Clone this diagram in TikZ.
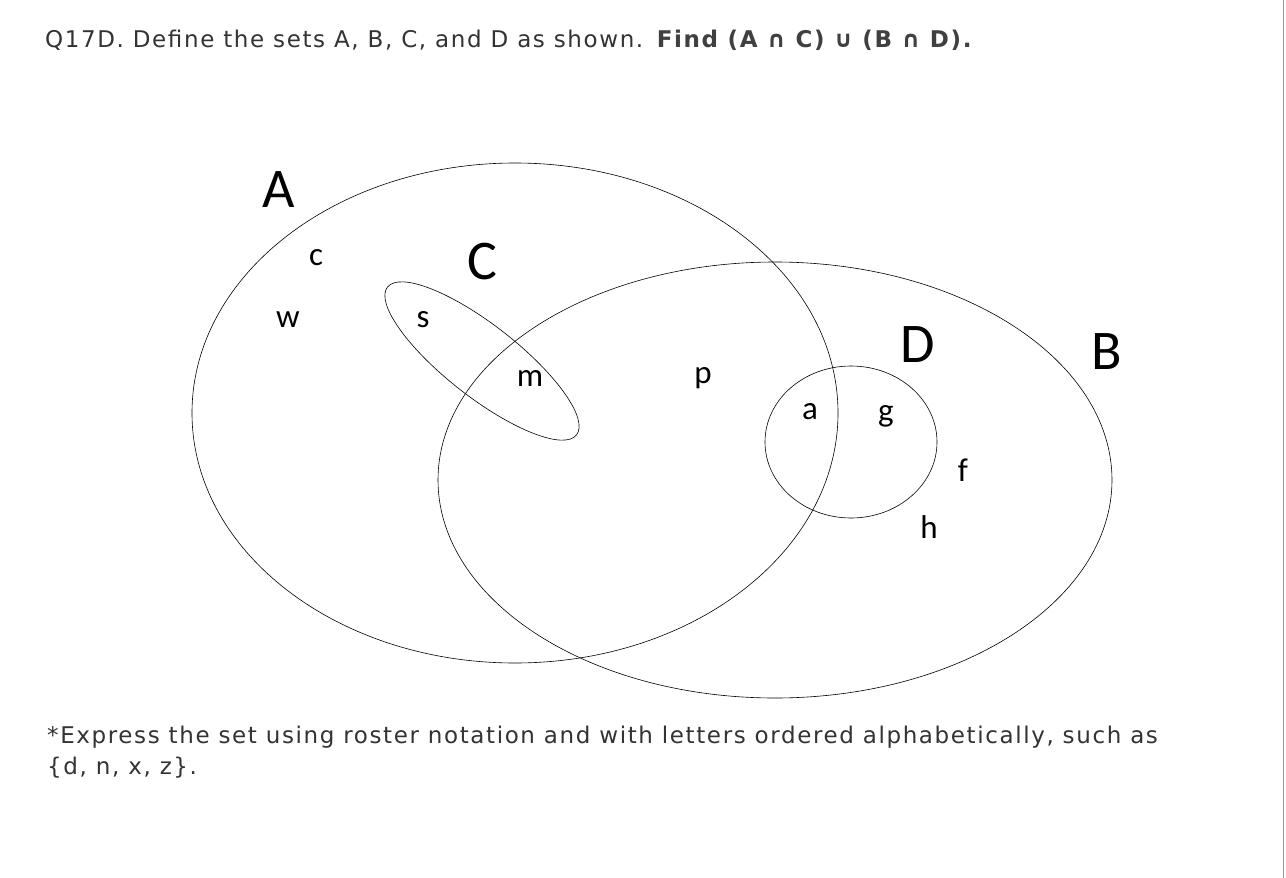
\documentclass[tikz,border=0pt]{standalone}
\usepackage{fontspec}
\setmainfont{DejaVu Sans}[LetterSpace=7]
\newfontfamily\venn{Carlito}
\begin{document}
\begin{tikzpicture}[x=1pt,y=-1pt,
  setline/.style={draw=black,line width=0.6pt},
  big/.style={font=\venn\fontsize{56}{56}\selectfont},
  el/.style={font=\venn\fontsize{33}{33}\selectfont},
  txt/.style={font=\fontsize{23}{27}\selectfont,text=black!80,anchor=west,inner sep=0pt}]
\useasboundingbox (0,0) rectangle (1286,878);
\fill[white] (0,0) rectangle (1286,878);
\draw[black!40] (1283,0) -- (1283,878);
\node[txt] (hdr) at (45,40) {Q17D. Define the sets A, B, C, and D as shown. \textbf{\textcolor{black!75}{Find (A ∩ C) ∪ (B ∩ D).}}};
\draw[setline] (515,413) ellipse [x radius=323, y radius=250];
\draw[setline] (775,480) ellipse [x radius=337, y radius=218];
\draw[setline,rotate around={-38:(482,361)}] (482,361) ellipse [x radius=120, y radius=36];
\draw[setline] (851,442) ellipse [x radius=86, y radius=76];
\node[big] (lA) at (279,190) {A};
\node[big] (lC) at (482,262) {C};
\node[big] (lD) at (918,345) {D};
\node[big] (lB) at (1107,352) {B};
\node[el] (c) at (316,258) {c};
\node[el] (w) at (288,320) {w};
\node[el] (s) at (423,320) {s};
\node[el] (m) at (530,378) {m};
\node[el] (p) at (703,378) {p};
\node[el] (a) at (810,412) {a};
\node[el] (g) at (886,416) {g};
\node[el] (f) at (963,470) {f};
\node[el] (h) at (929,527) {h};
\node[txt] (ft1) at (47,737) {*Express the set using roster notation and with letters ordered alphabetically, such as};
\node[txt] (ft2) at (47,768) {\{d, n, x, z\}.};
\end{tikzpicture}
\end{document}
